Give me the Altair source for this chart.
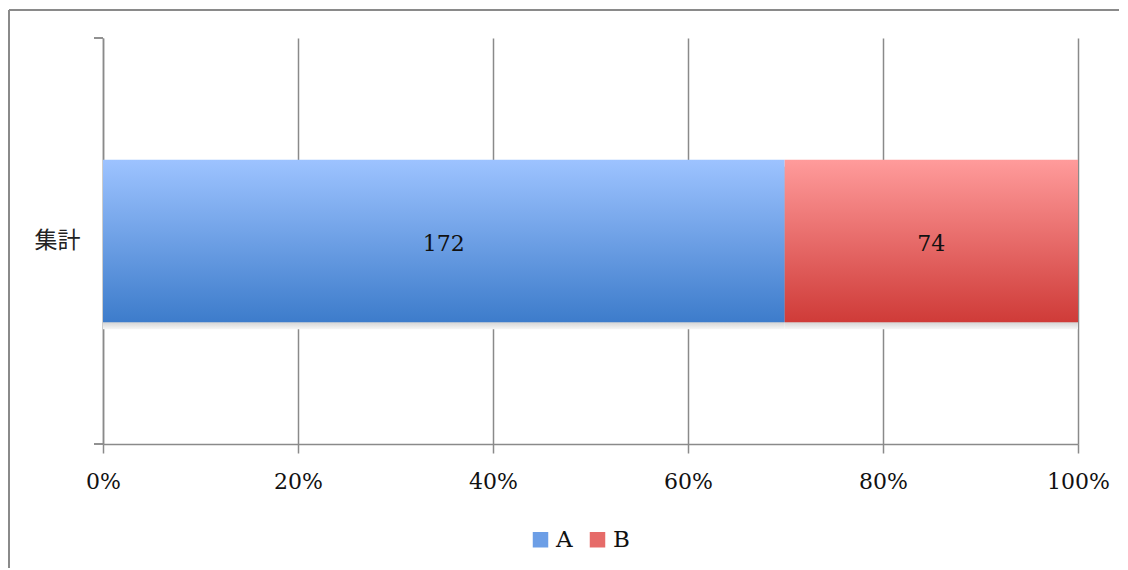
import altair as alt
import pandas as pd

categories = ["集計", "集計"]
series = ["A", "B"]
values = [172, 74]
tick_values = [0, 0.2, 0.4, 0.6, 0.8, 1.0]

df = pd.DataFrame({"cat": categories, "series": series, "value": values})

grad_a = alt.Gradient(gradient="linear", x1=0, x2=0, y1=0, y2=1,
                      stops=[alt.GradientStop(color="#9dc3ff", offset=0),
                             alt.GradientStop(color="#3d7ccb", offset=1)])
grad_b = alt.Gradient(gradient="linear", x1=0, x2=0, y1=0, y2=1,
                      stops=[alt.GradientStop(color="#ff9b9b", offset=0),
                             alt.GradientStop(color="#cf3b38", offset=1)])
grad_shadow = alt.Gradient(gradient="linear", x1=0, x2=0, y1=0, y2=1,
                           stops=[alt.GradientStop(color="#a8a8a8", offset=0.9),
                                  alt.GradientStop(color="#f6f6f6", offset=1)])

GRAY = "#8a8a8a"
PAD = {"left": 95, "top": 30, "right": 42, "bottom": 124}
W, H = 975, 406

base = alt.Chart(df).transform_stack(
    stack="value", groupby=["cat"], as_=["x0", "x1"], offset="normalize",
    sort=[alt.SortField("series", order="ascending")]
).transform_calculate(mid="(datum.x0 + datum.x1) / 2")

yenc = alt.Y("cat:N", title=None,
             scale=alt.Scale(paddingInner=0, paddingOuter=0.75),
             axis=alt.Axis(ticks=False, domain=True, domainColor=GRAY, domainWidth=1.5,
                           labelFont="Noto Sans CJK JP", labelFontSize=23,
                           labelColor="#222", labelPadding=23, labelAngle=0))

xaxis = alt.Axis(values=tick_values, format=".0%", grid=True,
                 gridColor=GRAY, gridWidth=1.5,
                 domainColor=GRAY, domainWidth=1.5,
                 tickColor=GRAY, tickWidth=1.5, tickSize=9,
                 labelFont="DejaVu Serif", labelFontSize=22,
                 labelColor="#111", labelPadding=18,
                 labelFlush=False)
xscale = alt.Scale(domain=[0, 1], nice=False)

# chart frame (only top and left edges fall inside the window in the reference)
border_top = alt.Chart(df).mark_rule(color=GRAY, strokeWidth=2).encode(
    x=alt.value(-94), x2=alt.value(W + PAD["right"] - 1), y=alt.value(-28))
border_left = alt.Chart(df).mark_rule(color=GRAY, strokeWidth=2).encode(
    x=alt.value(-94), y=alt.value(-28), y2=alt.value(H + PAD["bottom"]))

shadow = base.mark_bar(color=grad_shadow, yOffset=7).encode(
    x=alt.X("x0:Q", title=None, scale=xscale, axis=xaxis), x2="x1:Q", y=yenc)

bar_a = base.transform_filter(alt.datum.series == "A").mark_bar(color=grad_a).encode(
    x=alt.X("x0:Q", title=None, scale=xscale, axis=xaxis), x2="x1:Q", y=yenc)
bar_b = base.transform_filter(alt.datum.series == "B").mark_bar(color=grad_b).encode(
    x=alt.X("x0:Q", title=None, scale=xscale, axis=xaxis), x2="x1:Q", y=yenc)

labels = base.mark_text(font="DejaVu Serif", fontSize=22, color="#111", dy=3).encode(
    x=alt.X("mid:Q", title=None, scale=xscale, axis=xaxis), y=yenc, text="value:Q")

legend_layer = base.mark_square(opacity=0).encode(
    x=alt.X("mid:Q", title=None, scale=xscale, axis=xaxis), y=yenc,
    color=alt.Color("series:N",
                    scale=alt.Scale(domain=["A", "B"], range=["#6c9ee6", "#e66b69"]),
                    legend=alt.Legend(orient="none", legendX=426, legendY=490,
                                      direction="horizontal", title=None,
                                      symbolType="square", symbolSize=240,
                                      symbolOpacity=1, symbolStrokeWidth=0,
                                      labelFont="DejaVu Serif", labelFontSize=23,
                                      labelColor="#111", labelOffset=4,
                                      columnPadding=13)))

tick_top = alt.Chart(df).mark_rule(color=GRAY, strokeWidth=1.5).encode(
    x=alt.value(-9), x2=alt.value(0), y=alt.value(0))
tick_bottom = alt.Chart(df).mark_rule(color=GRAY, strokeWidth=1.5).encode(
    x=alt.value(-9), x2=alt.value(0), y=alt.value(H))

chart = alt.layer(border_top, border_left, shadow, bar_a, bar_b, labels,
                  legend_layer, tick_top, tick_bottom).properties(
    width=W, height=H,
    padding=PAD,
    autosize=alt.AutoSizeParams(type="none"),
).configure_view(stroke="transparent", strokeWidth=0)

chart.save("out.html", embed_options={"renderer": "svg", "actions": False})
